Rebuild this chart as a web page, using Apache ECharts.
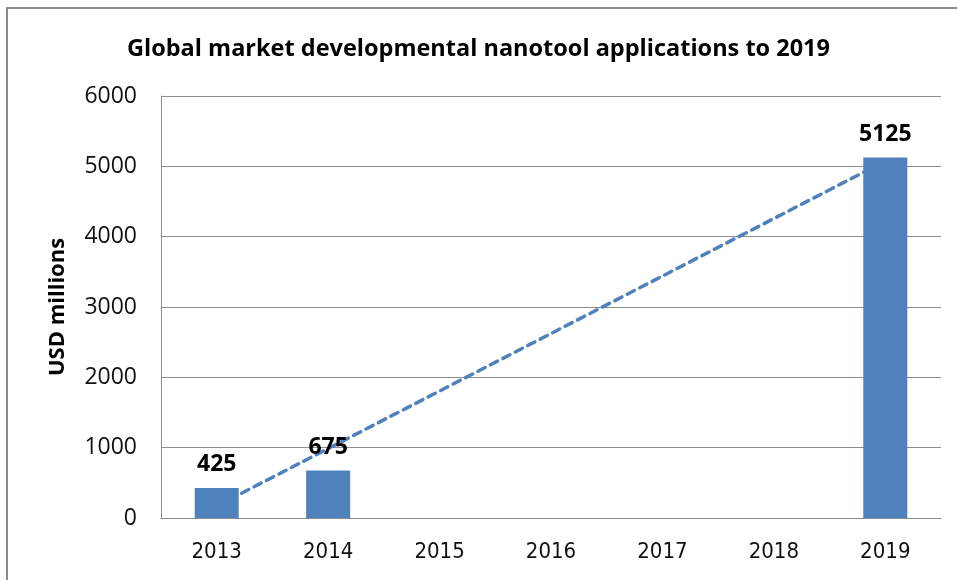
<!DOCTYPE html>
<html>
<head>
<meta charset="utf-8">
<script src="https://cdn.jsdelivr.net/npm/echarts@6/dist/echarts.min.js"></script>
<style>
  html, body { margin: 0; padding: 0; background: #fff; }
  #wrap { position: relative; width: 957px; height: 580px; }
  #frame { position: absolute; left: 6px; top: 7px; right: -5px; bottom: -5px;
    border-left: 2px solid #8a8a8a; border-top: 2px solid #8a8a8a; }
  #main { position: absolute; left: 0; top: 0; width: 957px; height: 580px; }
</style>
</head>
<body>
<div id="wrap">
  <div id="frame"></div>
  <div id="main"></div>
</div>
<script>
// chart data
const years = ['2013', '2014', '2015', '2016', '2017', '2018', '2019']
const marketValues = [425, 675, null, null, null, null, 5125]
// linear trendline (ends only)
const trendValues = [170, null, null, null, null, null, 5075]

const font = 'Open Sans'
const narrow = '"Liberation Sans Narrow", "DejaVu Sans Condensed", sans-serif'
const chart = echarts.init(document.getElementById('main'))

const option = {
  animation: false,
  title: {
    text: 'Global market developmental nanotool applications to 2019',
    left: 'center',
    top: 32,
    textStyle: { fontFamily: font, fontSize: 23.5, fontWeight: 'bold', color: '#000' }
  },
  grid: { left: 161, right: 16, top: 96, bottom: 62 },
  xAxis: {
    type: 'category',
    data: years,
    axisLine: { lineStyle: { color: '#8c8c8c', width: 1 } },
    axisTick: { show: false },
    axisLabel: { fontFamily: narrow, fontSize: 22, color: '#111', margin: 23 }
  },
  yAxis: {
    type: 'value',
    min: 0,
    max: 6000,
    interval: 1000,
    name: 'USD millions',
    nameLocation: 'middle',
    nameGap: 92,
    nameTextStyle: { fontFamily: font, fontSize: 22, fontWeight: 'bold', color: '#000' },
    axisLine: { show: true, lineStyle: { color: '#8c8c8c', width: 1 } },
    axisTick: { show: false },
    splitLine: { lineStyle: { color: '#8c8c8c', width: 1 } },
    axisLabel: {
      fontFamily: font, fontSize: 23, color: '#111', margin: 24,
      formatter: function (v) { return String(v) }
    }
  },
  series: [
    {
      name: 'Trend',
      type: 'line',
      data: trendValues,
      connectNulls: true,
      showSymbol: false,
      lineStyle: { color: '#4f81bd', width: 3.5, type: [8, 6], cap: 'round' },
      z: 1
    },
    {
      name: 'USD millions',
      type: 'bar',
      data: marketValues,
      barWidth: 44,
      itemStyle: { color: '#4f81bd' },
      label: {
        show: true,
        position: 'top',
        distance: 12,
        fontFamily: font,
        fontSize: 23,
        fontWeight: 'bold',
        color: '#000'
      },
      z: 2
    }
  ]
}

chart.setOption(option)
</script>
</body>
</html>
